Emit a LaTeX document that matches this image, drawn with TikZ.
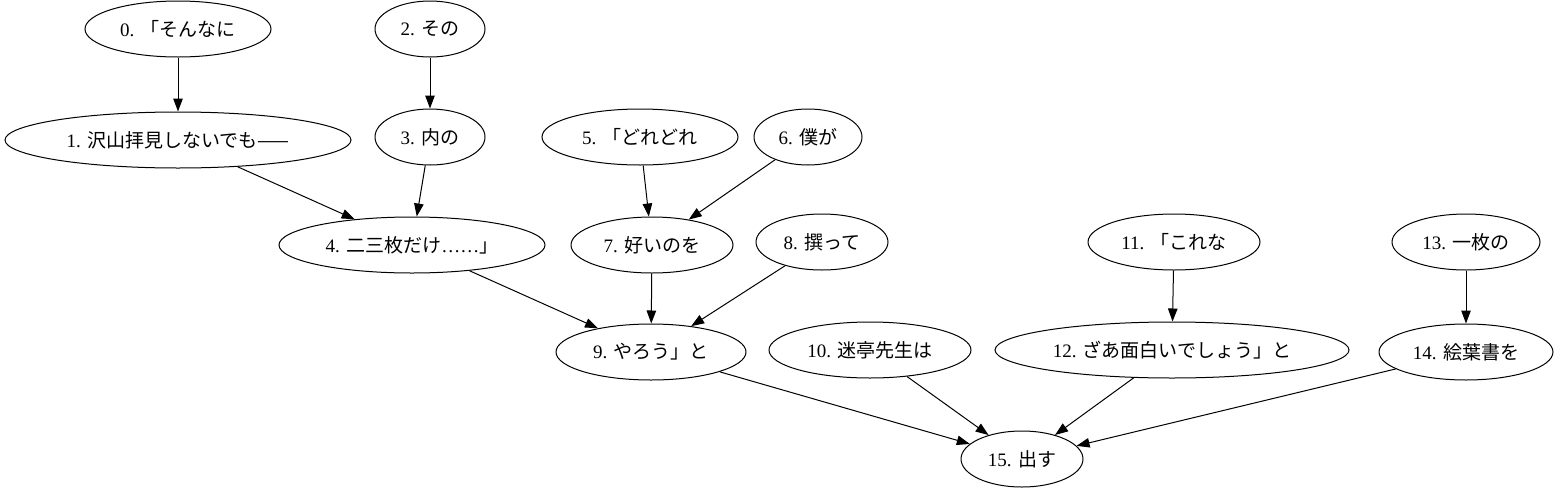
\documentclass[tikz,border=0pt]{standalone}
\usepackage{fontspec}
\setmainfont{Liberation Serif}
\newfontfamily\cjk{Noto Sans CJK JP}
\usetikzlibrary{arrows.meta,shapes.geometric}
\newcommand{\ja}[1]{{\cjk #1}}

\begin{document}
\begin{tikzpicture}[->,>={Triangle[length=13pt,width=9.5pt]},x=1pt,y=-1pt,
                    line width=1pt]
  \tikzstyle{word}=[draw=black,ellipse,inner sep=0pt,minimum height=56pt,
                    font=\fontsize{19}{21}\selectfont]
  \useasboundingbox (0,0) rectangle (1559,493);

  \node[word,minimum width=186pt] (w0)  at (178,29)   {0. \ja{「そんなに}};
  \node[word,minimum width=110pt] (w2)  at (430,29)   {2. \ja{その}};
  \node[word,minimum width=346pt] (w1)  at (178,140)  {1. \ja{沢山拝見しないでも——}};
  \node[word,minimum width=110pt] (w3)  at (430,137)  {3. \ja{内の}};
  \node[word,minimum width=196pt] (w5)  at (640,137)  {5. \ja{「どれどれ}};
  \node[word,minimum width=108pt] (w6)  at (808,137)  {6. \ja{僕が}};
  \node[word,minimum width=266pt] (w4)  at (412,245)  {4. \ja{二三枚だけ}……\ja{」}};
  \node[word,minimum width=162pt] (w7)  at (652,245)  {7. \ja{好いのを}};
  \node[word,minimum width=132pt] (w8)  at (822,242)  {8. \ja{撰って}};
  \node[word,minimum width=172pt] (w11) at (1174,242) {11. \ja{「これな}};
  \node[word,minimum width=148pt] (w13) at (1466,242) {13. \ja{一枚の}};
  \node[word,minimum width=190pt] (w9)  at (651,352)  {9. \ja{やろう」と}};
  \node[word,minimum width=202pt] (w10) at (870,350)  {10. \ja{迷亭先生は}};
  \node[word,minimum width=354pt] (w12) at (1172,350) {12. \ja{ざあ面白いでしょう」と}};
  \node[word,minimum width=174pt] (w14) at (1466,352) {14. \ja{絵葉書を}};
  \node[word,minimum width=122pt] (w15) at (1022,459) {15. \ja{出す}};

  \path (w0)  edge (w1)
        (w2)  edge (w3)
        (w1)  edge (w4)
        (w3)  edge (w4)
        (w5)  edge (w7)
        (w6)  edge (w7)
        (w4)  edge (w9)
        (w7)  edge (w9)
        (w8)  edge (w9)
        (w11) edge (w12)
        (w13) edge (w14)
        (w9)  edge (w15)
        (w10) edge (w15)
        (w12) edge (w15)
        (w14) edge (w15);
\end{tikzpicture}
\end{document}
